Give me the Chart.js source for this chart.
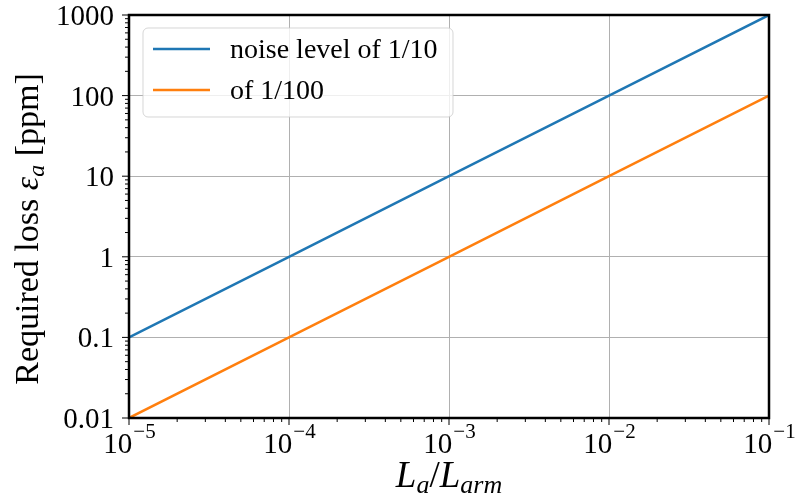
<!DOCTYPE html>
<html>
<head>
<meta charset="utf-8">
<script src="https://cdn.jsdelivr.net/npm/chart.js@4"></script>
<style>
  html, body { margin: 0; padding: 0; background: #fff; }
  #wrap { width: 800px; height: 501px; }
</style>
</head>
<body>
<div id="wrap"><canvas id="chart" width="800" height="501"></canvas></div>
<script>
// values
const ratio = [1e-5, 1e-4, 1e-3, 1e-2, 1e-1];
const lossTenth = [0.1, 1, 10, 100, 1000];
const lossHundredth = [0.01, 0.1, 1, 10, 100];
const seriesNames = ["noise level of 1/10", "of 1/100"];
const xTickExp = [-5, -4, -3, -2, -1];
const yTickLabels = ["0.01", "0.1", "1", "10", "100", "1000"];

const FONT = '"Liberation Serif", "DejaVu Serif", serif';
const isDecade = v => Math.abs(Math.log10(v) - Math.round(Math.log10(v))) < 1e-9;

const decorations = {
  id: "decorations",
  afterDraw(chart) {
    const c = chart.ctx;
    const a = chart.chartArea;
    const xs = chart.scales.x, ys = chart.scales.y;
    c.save();

    // frame
    c.strokeStyle = "#000";
    c.lineWidth = 2.5;
    c.strokeRect(a.left, a.top, a.right - a.left, a.bottom - a.top);

    // tick marks
    c.lineWidth = 1;
    for (let e = -5; e <= -1; e++) {
      for (let m = 1; m <= 9; m++) {
        const v = m * Math.pow(10, e);
        if (v > 0.1 + 1e-12) continue;
        const px = xs.getPixelForValue(v);
        const len = m === 1 ? 7 : 4;
        c.beginPath(); c.moveTo(px, a.bottom); c.lineTo(px, a.bottom + len); c.stroke();
      }
    }
    for (let e = -2; e <= 3; e++) {
      for (let m = 1; m <= 9; m++) {
        const v = m * Math.pow(10, e);
        if (v > 1000 + 1e-9) continue;
        const py = ys.getPixelForValue(v);
        const len = m === 1 ? 7 : 4;
        c.beginPath(); c.moveTo(a.left, py); c.lineTo(a.left - len, py); c.stroke();
      }
    }

    // y tick labels
    c.fillStyle = "#000";
    c.font = "29px " + FONT;
    c.textAlign = "right";
    c.textBaseline = "alphabetic";
    yTickLabels.forEach(t => {
      const py = ys.getPixelForValue(parseFloat(t));
      c.fillText(t, a.left - 15, py + 10);
    });

    // x tick labels 10^n
    xTickExp.forEach(n => {
      const px = xs.getPixelForValue(Math.pow(10, n));
      c.font = "29px " + FONT;
      const wb = c.measureText("10").width;
      c.font = "21px " + FONT;
      const sup = "\u2212" + Math.abs(n);
      const ws = c.measureText(sup).width;
      const x0 = px - (wb + ws) / 2;
      c.textAlign = "left";
      c.font = "29px " + FONT;
      c.fillText("10", x0, a.bottom + 35);
      c.font = "21px " + FONT;
      c.fillText(sup, x0 + wb + 1, a.bottom + 20);
    });

    // x axis title L_a / L_arm
    const parts = [
      ["L", "italic 37px " + FONT, 0],
      ["a", "italic 26px " + FONT, 6],
      ["/", "37px " + FONT, 0],
      ["L", "italic 37px " + FONT, 0],
      ["arm", "italic 26px " + FONT, 6]
    ];
    let total = 0;
    parts.forEach(p => { c.font = p[1]; total += c.measureText(p[0]).width; });
    let cx = (a.left + a.right) / 2 - total / 2;
    parts.forEach(p => {
      c.font = p[1];
      c.fillText(p[0], cx, 487 + p[2]);
      cx += c.measureText(p[0]).width;
    });

    // y axis title
    c.save();
    c.translate(38, 229);
    c.rotate(-Math.PI / 2);
    const yParts = [
      ["Required loss ", "34px " + FONT, 0],
      ["\u03b5", "italic 34px " + FONT, 0],
      ["a", "italic 24px " + FONT, 6],
      [" [ppm]", "34px " + FONT, 0]
    ];
    total = 0;
    yParts.forEach(p => { c.font = p[1]; total += c.measureText(p[0]).width; });
    cx = -total / 2;
    yParts.forEach(p => {
      c.font = p[1];
      c.fillText(p[0], cx, p[2]);
      cx += c.measureText(p[0]).width;
    });
    c.restore();

    // legend
    const lx = a.left + 14, ly = a.top + 13, lw = 310, lh = 89, r = 5;
    c.beginPath();
    c.moveTo(lx + r, ly);
    c.arcTo(lx + lw, ly, lx + lw, ly + lh, r);
    c.arcTo(lx + lw, ly + lh, lx, ly + lh, r);
    c.arcTo(lx, ly + lh, lx, ly, r);
    c.arcTo(lx, ly, lx + lw, ly, r);
    c.closePath();
    c.fillStyle = "rgba(255,255,255,0.8)";
    c.fill();
    c.strokeStyle = "rgba(204,204,204,0.8)";
    c.lineWidth = 1;
    c.stroke();
    chart.data.datasets.forEach((ds, i) => {
      const ry = ly + 21 + i * 41;
      c.strokeStyle = ds.borderColor;
      c.lineWidth = 2.5;
      c.beginPath(); c.moveTo(lx + 10, ry); c.lineTo(lx + 67, ry); c.stroke();
      c.fillStyle = "#000";
      c.font = "28px " + FONT;
      c.textAlign = "left";
      c.fillText(ds.label, lx + 87, ry + 9);
    });

    c.restore();
  }
};

new Chart(document.getElementById("chart"), {
  type: "scatter",
  data: {
    datasets: [
      {
        label: seriesNames[0],
        data: ratio.map((x, i) => ({ x, y: lossTenth[i] })),
        borderColor: "#1f77b4",
        showLine: true
      },
      {
        label: seriesNames[1],
        data: ratio.map((x, i) => ({ x, y: lossHundredth[i] })),
        borderColor: "#ff7f0e",
        showLine: true
      }
    ]
  },
  options: {
    responsive: false,
    animation: false,
    layout: { padding: { left: 129, right: 31, top: 15, bottom: 83 } },
    elements: { point: { radius: 0 }, line: { borderWidth: 2.5 } },
    plugins: { legend: { display: false }, tooltip: { enabled: false } },
    scales: {
      x: {
        type: "logarithmic",
        min: 1e-5,
        max: 1e-1,
        ticks: { display: false },
        border: { display: false },
        grid: {
          drawTicks: false,
          color: c => isDecade(c.tick.value) ? "#b0b0b0" : "rgba(0,0,0,0)"
        }
      },
      y: {
        type: "logarithmic",
        min: 0.01,
        max: 1000,
        ticks: { display: false },
        border: { display: false },
        grid: {
          drawTicks: false,
          color: c => isDecade(c.tick.value) ? "#b0b0b0" : "rgba(0,0,0,0)"
        }
      }
    }
  },
  plugins: [decorations]
});
</script>
</body>
</html>
